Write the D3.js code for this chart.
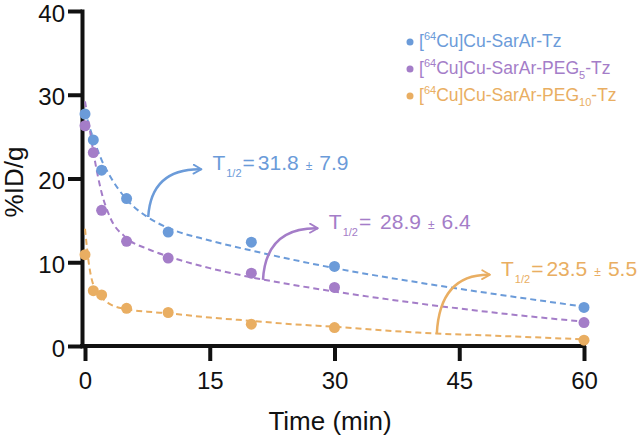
<!DOCTYPE html>
<html>
<head>
<meta charset="utf-8">
<script src="https://cdn.jsdelivr.net/npm/d3@7"></script>
<style>
  body { margin: 0; background: #fff; }
  text { font-family: "Liberation Sans", Arial, Helvetica, sans-serif; }
</style>
</head>
<body>
<div id="chart-area"></div>
<script>
// measured time points (min)
var times = [0, 1, 2, 5, 10, 20, 30, 60];
var tzValues = [27.7, 24.6, 21.0, 17.6, 13.6, 12.4, 9.5, 4.6];
var peg5Values = [26.3, 23.1, 16.2, 12.5, 10.5, 8.7, 7.0, 2.8];
var peg10Values = [10.9, 6.6, 6.1, 4.5, 4.0, 2.6, 2.2, 0.7];

// fitted curves
var fitTimes = [0, 0.5, 1, 2, 3, 5, 7.5, 10, 15, 20, 25, 30, 40, 50, 60];
var fitTz = [28.2, 26.3, 24.8, 22.2, 20.3, 17.5, 15.4, 14.1, 12.6, 11.4, 10.3, 9.3, 7.6, 6.1, 4.7];
var fitPeg5 = [29.2, 26.3, 23.2, 18.3, 15.4, 12.9, 11.6, 10.7, 9.3, 8.2, 7.3, 6.5, 5.1, 3.9, 2.9];
var fitPeg10 = [14.0, 9.6, 7.3, 5.8, 5.0, 4.4, 4.1, 3.9, 3.4, 3.0, 2.6, 2.3, 1.6, 1.2, 0.8];

var xTicks = [0, 15, 30, 45, 60];
var yTicks = [0, 10, 20, 30, 40];

// half-life labels
var halfLives = ["31.8", "28.9", "23.5"];
var halfErrs = ["7.9", "6.4", "5.5"];
var halfEq = ["=", "= ", "="];
// arrow start (on the curve) and end, in data units [t, %ID/g]
var arrowFrom = [[7.6, 15.4], [21.4, 7.9], [42.3, 1.45]];
var arrowTo = [[14.0, 21.1], [28.0, 14.05], [48.7, 8.5]];

var colors = ["#6b9bd9", "#a47dc8", "#e9ae62"];

var series = [
  { name: "tz", values: tzValues, fit: fitTz, pre: "Cu-SarAr", sub: "" },
  { name: "peg5", values: peg5Values, fit: fitPeg5, pre: "Cu-SarAr-PEG", sub: "5" },
  { name: "peg10", values: peg10Values, fit: fitPeg10, pre: "Cu-SarAr-PEG", sub: "10" }
];

var width = 638, height = 438;

var svg = d3.select("#chart-area")
  .append("svg")
  .attr("width", width)
  .attr("height", height);

var x = d3.scaleLinear()
  .domain([0, 60])
  .range([85, 584]);

var y = d3.scaleLinear()
  .domain([0, 40])
  .range([346, 11]);

// arrow head marker per colour
var defs = svg.append("defs");
colors.forEach(function(c, i) {
  defs.append("marker")
    .attr("id", "arrow" + i)
    .attr("viewBox", "0 0 10 10")
    .attr("refX", 8)
    .attr("refY", 5)
    .attr("markerWidth", 4.5)
    .attr("markerHeight", 4.5)
    .attr("markerUnits", "strokeWidth")
    .attr("orient", "auto")
    .append("path")
    .attr("d", "M1,1 L8,5 L1,9")
    .attr("fill", "none")
    .attr("stroke", c)
    .attr("stroke-width", 1.6)
    .attr("stroke-linecap", "round")
    .attr("stroke-linejoin", "round");
});

// Y axis
var yAxis = svg.append("g")
  .attr("transform", "translate(82,0)")
  .call(d3.axisLeft(y).tickValues(yTicks).tickSize(14).tickSizeOuter(0).tickPadding(3));
yAxis.selectAll(".tick text").attr("dy", "0.42em");

// X axis
var xAxis = svg.append("g")
  .attr("transform", "translate(0,346)")
  .call(d3.axisBottom(x).tickValues(xTicks).tickSize(15).tickSizeOuter(0).tickPadding(11));
xAxis.select(".domain").remove();
xAxis.append("line")
  .attr("x1", 80)
  .attr("x2", x(60) + 2)
  .attr("y1", 0)
  .attr("y2", 0)
  .attr("stroke", "#111")
  .attr("stroke-width", 4);

svg.selectAll(".domain")
  .attr("stroke", "#111")
  .attr("stroke-width", 4)
  .attr("stroke-linecap", "square");
svg.selectAll(".tick line")
  .attr("stroke", "#111")
  .attr("stroke-width", 4);
svg.selectAll(".tick text")
  .attr("fill", "#111")
  .attr("font-size", "24px");

// axis titles
svg.append("text")
  .attr("transform", "rotate(-90)")
  .attr("x", -182)
  .attr("y", 23)
  .attr("font-size", "26px")
  .attr("fill", "#111")
  .attr("text-anchor", "middle")
  .text("%ID/g");

svg.append("text")
  .attr("x", 330)
  .attr("y", 430)
  .attr("font-size", "26px")
  .attr("fill", "#111")
  .attr("text-anchor", "middle")
  .text("Time (min)");

// dashed fit lines
var line = d3.line()
  .x(function(d) { return x(d[0]); })
  .y(function(d) { return y(d[1]); })
  .curve(d3.curveMonotoneX);

series.forEach(function(s, i) {
  svg.append("path")
    .datum(fitTimes.map(function(t, j) { return [t, s.fit[j]]; }))
    .attr("d", line)
    .attr("fill", "none")
    .attr("stroke", colors[i])
    .attr("stroke-width", 2)
    .attr("stroke-dasharray", "6,4");
});

// dots
series.forEach(function(s, i) {
  svg.append("g")
    .selectAll("circle")
    .data(times.map(function(t, j) { return [t, s.values[j]]; }))
    .enter()
    .append("circle")
    .attr("cx", function(d) { return x(d[0]); })
    .attr("cy", function(d) { return y(d[1]); })
    .attr("r", 5.5)
    .style("fill", colors[i]);
});

// half-life arrows and labels
halfLives.forEach(function(v, i) {
  var x0 = x(arrowFrom[i][0]), y0 = y(arrowFrom[i][1]);
  var x1 = x(arrowTo[i][0]), y1 = y(arrowTo[i][1]);
  svg.append("path")
    .attr("d", "M" + x0 + "," + y0 + " Q" + (x0 + 3) + "," + (y1 - 1) + " " + x1 + "," + y1)
    .attr("fill", "none")
    .attr("stroke", colors[i])
    .attr("stroke-width", 2.5)
    .attr("marker-end", "url(#arrow" + i + ")");

  var t = svg.append("text")
    .attr("x", x1 + 11)
    .attr("y", y1 + 1)
    .attr("fill", colors[i])
    .attr("font-size", "21px");
  t.append("tspan").text("T");
  t.append("tspan").attr("font-size", "11px").attr("dy", 7).attr("dx", 1).text("1/2");
  t.append("tspan").attr("dy", -7).attr("dx", 1).text(halfEq[i]);
  t.append("tspan").attr("dx", 3).text(v);
  t.append("tspan").attr("font-size", "12px").attr("dx", 7).text("±");
  t.append("tspan").attr("dx", 7).text(halfErrs[i]);
});

// legend
var legend = svg.append("g")
  .attr("transform", "translate(410,0)");

series.forEach(function(s, i) {
  var yy = 47 + i * 27;
  legend.append("circle")
    .attr("cx", 0)
    .attr("cy", yy - 5)
    .attr("r", 3.5)
    .style("fill", colors[i]);
  var t = legend.append("text")
    .attr("x", 9)
    .attr("y", yy)
    .attr("fill", colors[i])
    .attr("font-size", "17.5px");
  t.append("tspan").text("[");
  t.append("tspan").attr("font-size", "11px").attr("dy", -7).text("64");
  t.append("tspan").attr("dy", 7).text("Cu]" + s.pre);
  if (s.sub) {
    t.append("tspan").attr("font-size", "11px").attr("dy", 5).text(s.sub);
    t.append("tspan").attr("dy", -5).text("-Tz");
  } else {
    t.append("tspan").text("-Tz");
  }
});
</script>
</body>
</html>
